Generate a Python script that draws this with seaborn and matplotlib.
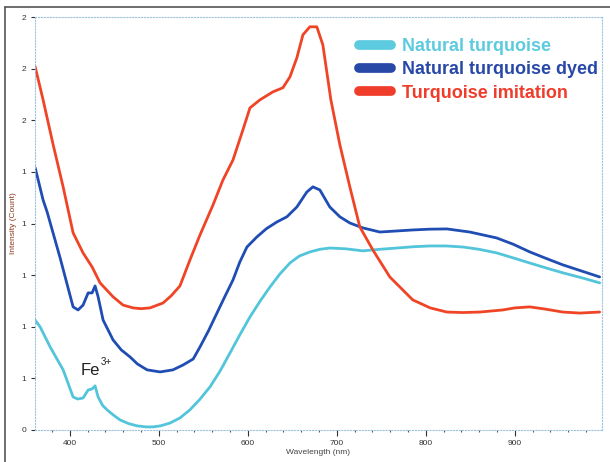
import numpy as np
import pandas as pd
import matplotlib
matplotlib.use("Agg")
import matplotlib.pyplot as plt
import seaborn as sns
from matplotlib.lines import Line2D
from matplotlib.ticker import MultipleLocator

series_names = ["Natural turquoise", "Natural turquoise dyed", "Turquoise imitation"]
line_colors = ["#52c5db", "#1f4db3", "#ef4526"]
text_colors = ["#5ccbe0", "#2848a8", "#f03c2a"]

natural_wl = [361.2, 366.8, 378, 392.6, 403.8, 409, 415, 420.7, 425.1, 428.5, 431.9, 437,
              442, 449, 456.6, 466, 475.6, 486, 493.6, 502, 512.7, 524, 535, 546, 557.6,
              569, 580, 591, 602.5, 614, 625, 636, 647.4, 658, 670, 681, 692.3, 710, 729.4,
              748, 767.5, 786, 804.6, 823, 841.6, 860, 879.8, 898, 916.8, 935, 953.9, 975, 995.4]
natural_val = [0.426, 0.399, 0.322, 0.233, 0.128, 0.120, 0.124, 0.155, 0.159, 0.171, 0.128, 0.095,
               0.078, 0.058, 0.039, 0.025, 0.016, 0.012, 0.012, 0.016, 0.027, 0.047, 0.078, 0.118, 0.167,
               0.229, 0.298, 0.368, 0.438, 0.500, 0.554, 0.604, 0.647, 0.674, 0.690, 0.700, 0.705, 0.702, 0.694,
               0.700, 0.705, 0.710, 0.713, 0.713, 0.709, 0.700, 0.686, 0.667, 0.647, 0.628, 0.609, 0.590, 0.570]

dyed_wl = [361.2, 370.1, 374.6, 389.2, 403.8, 409.4, 415, 420.7, 425.1, 428.5, 431.9, 437.5,
           448.7, 458, 467.8, 476, 486.9, 501.5, 516, 527.4, 538.7, 546.4, 556, 565.4, 574, 583.4,
           591, 599.1, 610.3, 621, 632.8, 644, 655.2, 666.4, 673.2, 681, 692.2, 703.5, 714.7,
           729.3, 748.4, 767, 785.4, 804, 823.6, 849.4, 879.7, 898, 916.8, 935, 953.8, 975, 995.3]
dyed_val = [1.016, 0.891, 0.845, 0.667, 0.477, 0.465, 0.484, 0.531, 0.531, 0.558, 0.516, 0.426,
            0.349, 0.310, 0.283, 0.256, 0.233, 0.225, 0.233, 0.252, 0.275, 0.322, 0.385, 0.453, 0.515, 0.581,
            0.650, 0.709, 0.748, 0.780, 0.806, 0.826, 0.864, 0.922, 0.942, 0.930, 0.864, 0.826, 0.802,
            0.783, 0.767, 0.771, 0.775, 0.778, 0.779, 0.767, 0.744, 0.720, 0.690, 0.665, 0.640, 0.616, 0.593]

imit_wl = [361.2, 370.1, 381.4, 392.6, 403.8, 415, 425.1, 434.1, 448.7, 459.9, 471.2, 480, 490.2,
           504.8, 514, 523.8, 535.1, 546.4, 561, 572.2, 583.4, 594.6, 602.5, 613.7, 628.3, 639.5,
           647.4, 655.2, 662, 669.8, 677.6, 684.4, 693.4, 703.5, 714.7, 725.9, 740.5, 759.6, 785.4,
           805, 823.6, 842, 860.6, 886.4, 900, 916.8, 935, 953.8, 972.9, 995.3]
imit_val = [1.407, 1.279, 1.105, 0.942, 0.764, 0.686, 0.632, 0.570, 0.516, 0.484, 0.473, 0.470, 0.473,
            0.492, 0.520, 0.558, 0.659, 0.756, 0.872, 0.969, 1.046, 1.163, 1.248, 1.279, 1.310, 1.326,
            1.368, 1.442, 1.531, 1.562, 1.562, 1.492, 1.279, 1.105, 0.942, 0.787, 0.698, 0.593, 0.504,
            0.473, 0.457, 0.455, 0.457, 0.465, 0.473, 0.477, 0.468, 0.457, 0.453, 0.457]

y_tick_values = [0, 0.2, 0.4, 0.6, 0.8, 1.0, 1.2, 1.4, 1.6]
y_tick_labels = ["0", "1", "1", "1", "1", "1", "2", "2", "2"]
x_tick_values = [400, 500, 600, 700, 800, 900]

frames = []
for name, wl, val in [(series_names[0], natural_wl, natural_val),
                      (series_names[1], dyed_wl, dyed_val),
                      (series_names[2], imit_wl, imit_val)]:
    frames.append(pd.DataFrame({"wl": wl, "val": val, "series": name}))
df = pd.concat(frames, ignore_index=True)

sns.set_style("white")
plt.rcParams['font.family'] = ['Liberation Sans', 'DejaVu Sans']

fig = plt.figure(figsize=(6.1, 4.62), dpi=100)
ax = fig.add_axes([35 / 610, 1 - 430 / 462, (602 - 35) / 610, (430 - 17) / 462])

sns.lineplot(data=df, x="wl", y="val", hue="series", hue_order=series_names,
             palette=dict(zip(series_names, line_colors)), estimator=None, sort=False,
             linewidth=2.0, ax=ax, legend=False)

ax.set_xlim(361, 998)
ax.set_ylim(0, 1.6)
ax.set_yticks(y_tick_values)
ax.set_yticklabels(y_tick_labels)
ax.set_xticks(x_tick_values)
ax.set_xticklabels([str(v) for v in x_tick_values])
ax.xaxis.set_minor_locator(MultipleLocator(20))
ax.tick_params(axis='both', which='major', labelsize=6, colors='#333333', length=3, width=0.8,
               direction='out', bottom=True, left=True)
ax.tick_params(axis='x', which='minor', length=1.5, width=0.8, colors='#555555', bottom=True)
ax.tick_params(axis='x', which='major', length=4, pad=3)

for s in ax.spines.values():
    s.set_linestyle(':')
    s.set_color('#9fc3dd')
    s.set_linewidth(0.8)

ax.set_xlabel("Wavelength (nm)", fontsize=6, color='#444444', labelpad=2)
ax.set_ylabel("Intensity (Count)", fontsize=6, color='#8a3b1c', labelpad=3)

ax.text(412.5, 0.232, "Fe", fontsize=12, color='#222222', ha='left', va='center')
ax.text(434.5, 0.262, "3+", fontsize=7, color='#222222', ha='left', va='center')

handles = [Line2D([0], [0], color=c, lw=7, solid_capstyle='round') for c in text_colors]
leg = ax.legend(handles, series_names, loc='upper left', bbox_to_anchor=(0.549, 0.979),
                frameon=False, handlelength=1.75, handletextpad=0.65, labelspacing=0.34,
                borderaxespad=0.3, prop={'weight': 'bold', 'size': 13})
for t, c in zip(leg.get_texts(), text_colors):
    t.set_color(c)

fig.add_artist(Line2D([5 / 610, 5 / 610], [0, 1 - 7 / 462], color='#555555', lw=1.2))
fig.add_artist(Line2D([5 / 610, 1], [1 - 7 / 462, 1 - 7 / 462], color='#555555', lw=1.2))

fig.savefig("out.png", dpi=100)
